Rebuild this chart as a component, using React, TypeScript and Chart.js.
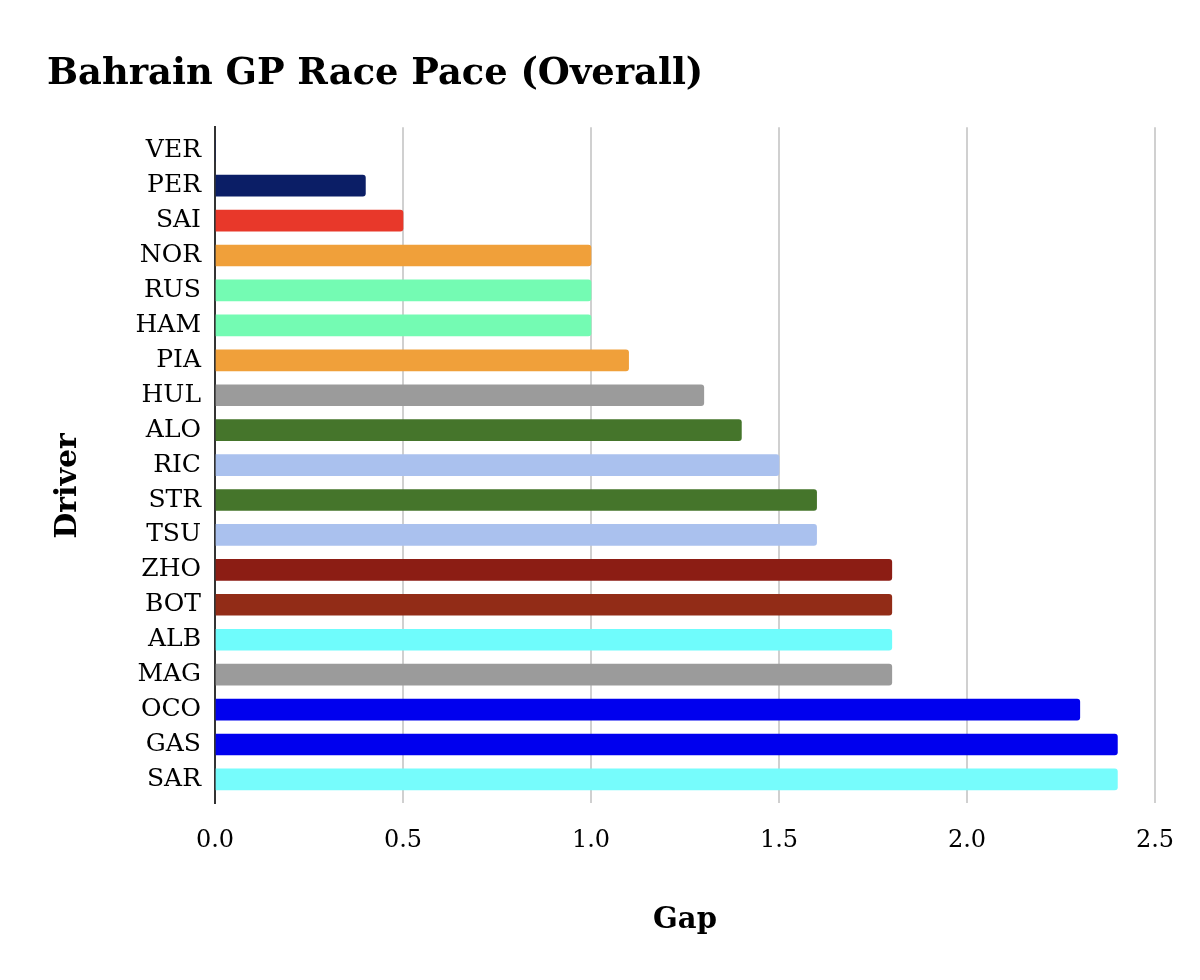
import React, { useEffect, useRef } from "react";
import { Chart, registerables } from "chart.js";

Chart.register(...registerables);

const drivers = ["VER", "PER", "SAI", "NOR", "RUS", "HAM", "PIA", "HUL", "ALO", "RIC", "STR", "TSU", "ZHO", "BOT", "ALB", "MAG", "OCO", "GAS", "SAR"];
const gaps = [0, 0.4, 0.5, 1.0, 1.0, 1.0, 1.1, 1.3, 1.4, 1.5, 1.6, 1.6, 1.8, 1.8, 1.8, 1.8, 2.3, 2.4, 2.4];
const teamColors = [
  "#0b1e66", "#0b1e66", "#e8382a", "#f0a03a", "#74fbb3", "#74fbb3", "#f0a03a", "#9b9b9b",
  "#45752b", "#aac1ee", "#45752b", "#aac1ee", "#8c1d14", "#922c17", "#6ffcfc", "#9b9b9b",
  "#0000ee", "#0000ee", "#76fcfc",
];
const xTicks = [0, 0.5, 1.0, 1.5, 2.0, 2.5];

const SERIF = "'DejaVu Serif', 'Liberation Serif', serif";

export default function App() {
  const ref = useRef<HTMLCanvasElement | null>(null);
  useEffect(() => {
    if (!ref.current) return;
    const chart = new Chart(ref.current, {
      type: "bar",
      data: {
        labels: drivers,
        datasets: [
          {
            label: "Gap",
            data: gaps.map((g, i) => ({ x: g, y: i })),
            backgroundColor: teamColors,
            borderRadius: 3,
            barThickness: 21,
          },
        ],
      },
      options: {
        indexAxis: "y",
        animation: false,
        responsive: false,
        layout: { padding: { left: 39, right: 37, top: 0, bottom: 0 } },
        plugins: {
          legend: { display: false },
          tooltip: { enabled: false },
          title: {
            display: true,
            text: "Bahrain GP Race Pace (Overall)",
            align: "start",
            color: "#000",
            font: { family: SERIF, size: 36.8, weight: "bold" },
            padding: { top: 44, bottom: 31 },
          },
        },
        scales: {
          x: {
            type: "linear",
            min: 0,
            max: 2.5,
            afterBuildTicks: (scale: any) => {
              scale.ticks = xTicks.map((v) => ({ value: v }));
            },
            afterFit: (scale: any) => {
              scale.height = 165;
              scale.paddingRight = 0;
              scale.paddingLeft = 0;
            },
            grid: { color: "#d0d0d0", lineWidth: 2, drawTicks: false },
            border: { display: false },
            ticks: {
              color: "#000",
              padding: 23,
              font: { family: SERIF, size: 24 },
              callback: (v: any) => Number(v).toFixed(1),
            },
            title: {
              display: true,
              text: "Gap",
              color: "#000",
              font: { family: SERIF, size: 29, weight: "bold" },
              padding: { top: 0, bottom: 30 },
            },
          },
          y: {
            type: "linear",
            reverse: true,
            offset: false,
            bounds: "data",
            min: -0.675,
            max: drivers.length - 1 + 0.675,
            afterBuildTicks: (scale: any) => {
              scale.ticks = drivers.map((_, i) => ({ value: i }));
            },
            afterFit: (scale: any) => {
              scale.width = 168;
            },
            grid: { display: false, drawTicks: false, offset: false },
            border: { display: true, color: "#333", width: 2 },
            ticks: {
              color: "#000",
              padding: 14,
              autoSkip: false,
              font: { family: SERIF, size: 25 },
              callback: (v: any) => drivers[Math.round(Number(v))] ?? "",
            },
            title: {
              display: true,
              text: "Driver    ",
              color: "#000",
              font: { family: SERIF, size: 30, weight: "bold" },
              padding: { top: 3, bottom: 0 },
            },
          },
        },
      },
    } as any);
    return () => chart.destroy();
  }, []);
  return (
    <div style={{ width: 1184, height: 960 }}>
      <canvas ref={ref} width={1184} height={960} style={{ width: 1184, height: 960 }} />
    </div>
  );
}
